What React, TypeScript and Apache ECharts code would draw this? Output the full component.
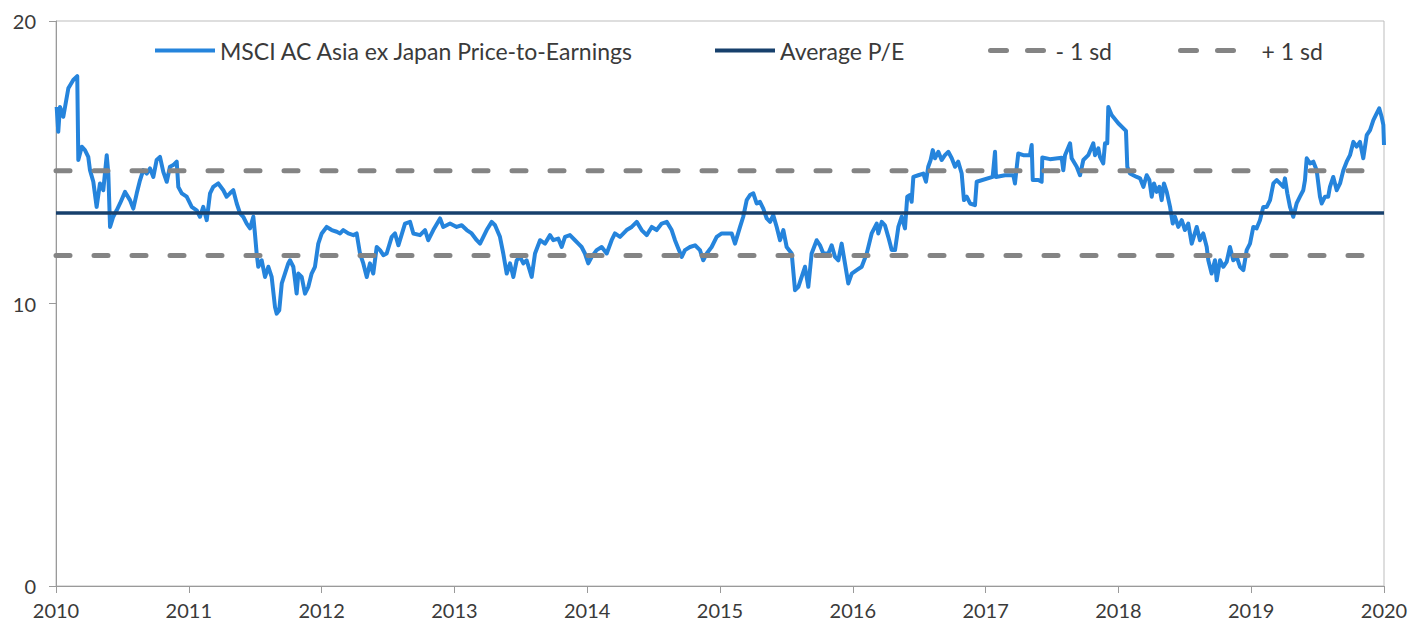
import React, { useEffect, useRef } from "react";
import * as echarts from "echarts";

// Decimal-year positions of the readings and the P/E values
const years: number[] = [
  2010.005, 2010.017, 2010.030, 2010.055, 2010.093, 2010.130, 2010.160, 2010.168, 2010.194, 2010.218,
  2010.243, 2010.256, 2010.281, 2010.306, 2010.331, 2010.356, 2010.382, 2010.394, 2010.407, 2010.431,
  2010.457, 2010.482, 2010.520, 2010.557, 2010.582, 2010.608, 2010.633, 2010.657, 2010.683, 2010.708,
  2010.733, 2010.758, 2010.783, 2010.808, 2010.834, 2010.858, 2010.883, 2010.909, 2010.921, 2010.947,
  2010.984, 2011.022, 2011.059, 2011.084, 2011.109, 2011.135, 2011.160, 2011.184, 2011.222, 2011.260,
  2011.285, 2011.310, 2011.335, 2011.361, 2011.386, 2011.410, 2011.436, 2011.461, 2011.486, 2011.498,
  2011.511, 2011.523, 2011.549, 2011.574, 2011.599, 2011.624, 2011.649, 2011.662, 2011.681, 2011.700,
  2011.724, 2011.749, 2011.762, 2011.787, 2011.800, 2011.812, 2011.825, 2011.850, 2011.875, 2011.900,
  2011.925, 2011.950, 2011.975, 2012.001, 2012.038, 2012.076, 2012.114, 2012.139, 2012.163, 2012.201,
  2012.239, 2012.264, 2012.289, 2012.314, 2012.340, 2012.364, 2012.389, 2012.415, 2012.440, 2012.465,
  2012.490, 2012.528, 2012.553, 2012.578, 2012.628, 2012.666, 2012.691, 2012.741, 2012.779, 2012.803,
  2012.841, 2012.892, 2012.916, 2012.967, 2013.017, 2013.055, 2013.093, 2013.130, 2013.168, 2013.193,
  2013.243, 2013.281, 2013.306, 2013.343, 2013.368, 2013.394, 2013.419, 2013.444, 2013.469, 2013.494,
  2013.519, 2013.544, 2013.582, 2013.607, 2013.645, 2013.682, 2013.720, 2013.745, 2013.782, 2013.808,
  2013.833, 2013.870, 2013.908, 2013.933, 2013.958, 2013.983, 2014.008, 2014.034, 2014.071, 2014.109,
  2014.147, 2014.184, 2014.209, 2014.247, 2014.297, 2014.335, 2014.373, 2014.410, 2014.448, 2014.486,
  2014.523, 2014.561, 2014.599, 2014.636, 2014.661, 2014.686, 2014.712, 2014.736, 2014.774, 2014.812,
  2014.849, 2014.874, 2014.900, 2014.937, 2014.975, 2015.013, 2015.050, 2015.088, 2015.113, 2015.151,
  2015.175, 2015.201, 2015.226, 2015.251, 2015.276, 2015.301, 2015.326, 2015.352, 2015.377, 2015.401,
  2015.427, 2015.452, 2015.477, 2015.502, 2015.540, 2015.565, 2015.590, 2015.615, 2015.640, 2015.665,
  2015.690, 2015.728, 2015.753, 2015.778, 2015.816, 2015.841, 2015.866, 2015.891, 2015.916, 2015.941,
  2015.966, 2015.992, 2016.029, 2016.067, 2016.105, 2016.142, 2016.180, 2016.192, 2016.218, 2016.242,
  2016.267, 2016.293, 2016.318, 2016.343, 2016.368, 2016.393, 2016.410, 2016.431, 2016.443, 2016.456,
  2016.493, 2016.531, 2016.551, 2016.568, 2016.586, 2016.602, 2016.619, 2016.644, 2016.669, 2016.694,
  2016.719, 2016.745, 2016.770, 2016.794, 2016.820, 2016.837, 2016.858, 2016.883, 2016.920, 2016.933,
  2017.053, 2017.071, 2017.078, 2017.146, 2017.209, 2017.221, 2017.246, 2017.284, 2017.334, 2017.347,
  2017.355, 2017.397, 2017.422, 2017.427, 2017.485, 2017.573, 2017.585, 2017.598, 2017.636, 2017.648,
  2017.686, 2017.711, 2017.736, 2017.773, 2017.811, 2017.824, 2017.849, 2017.861, 2017.886, 2017.899,
  2017.916, 2017.924, 2017.949, 2017.999, 2018.057, 2018.067, 2018.087, 2018.112, 2018.138, 2018.163,
  2018.188, 2018.213, 2018.233, 2018.251, 2018.268, 2018.288, 2018.308, 2018.326, 2018.343, 2018.364,
  2018.389, 2018.409, 2018.426, 2018.451, 2018.477, 2018.501, 2018.526, 2018.552, 2018.590, 2018.614,
  2018.639, 2018.665, 2018.677, 2018.702, 2018.727, 2018.740, 2018.765, 2018.790, 2018.815, 2018.840,
  2018.865, 2018.891, 2018.916, 2018.941, 2018.966, 2018.991, 2019.016, 2019.041, 2019.066, 2019.091,
  2019.117, 2019.142, 2019.167, 2019.192, 2019.217, 2019.242, 2019.254, 2019.272, 2019.292, 2019.317,
  2019.342, 2019.367, 2019.392, 2019.405, 2019.418, 2019.443, 2019.468, 2019.493, 2019.518, 2019.531,
  2019.556, 2019.580, 2019.593, 2019.618, 2019.644, 2019.669, 2019.694, 2019.719, 2019.744, 2019.769,
  2019.794, 2019.819, 2019.844, 2019.870, 2019.895, 2019.920, 2019.945, 2019.964, 2019.982, 2019.995,
  2020.0,
];

const pe: number[] = [
  16.96, 16.08, 16.96, 16.61, 17.62, 17.91, 18.05, 15.08, 15.55, 15.43,
  15.19, 14.72, 14.31, 13.42, 14.25, 14.01, 15.25, 14.60, 12.71, 13.07,
  13.30, 13.54, 13.95, 13.66, 13.36, 13.90, 14.37, 14.72, 14.60, 14.78,
  14.48, 15.08, 15.19, 14.66, 14.31, 14.84, 14.90, 15.02, 14.13, 13.90,
  13.78, 13.42, 13.30, 13.07, 13.42, 12.95, 13.90, 14.13, 14.25, 14.01,
  13.78, 13.90, 14.01, 13.54, 13.19, 13.07, 12.83, 12.66, 13.07, 12.48,
  11.77, 11.30, 11.53, 10.94, 11.30, 10.94, 9.88, 9.64, 9.76, 10.71,
  11.06, 11.42, 11.53, 11.30, 10.82, 10.35, 11.06, 10.94, 10.35, 10.59,
  11.06, 11.30, 12.12, 12.48, 12.71, 12.60, 12.54, 12.48, 12.60, 12.48,
  12.42, 12.48, 11.77, 11.42, 10.94, 11.42, 11.06, 12.00, 11.89, 11.71,
  11.77, 12.36, 12.48, 12.06, 12.83, 12.89, 12.48, 12.42, 12.60, 12.24,
  12.60, 13.01, 12.71, 12.83, 12.71, 12.77, 12.60, 12.48, 12.24, 12.12,
  12.60, 12.89, 12.77, 12.36, 11.77, 11.06, 11.42, 10.94, 11.53, 11.65,
  11.42, 11.53, 10.94, 11.77, 12.24, 12.12, 12.42, 12.24, 12.30, 12.00,
  12.36, 12.42, 12.24, 12.12, 12.00, 11.77, 11.42, 11.65, 11.89, 12.00,
  11.77, 12.24, 12.48, 12.36, 12.60, 12.71, 12.89, 12.60, 12.42, 12.71,
  12.60, 12.83, 12.89, 12.60, 12.24, 11.95, 11.65, 11.89, 12.00, 12.06,
  11.89, 11.53, 11.77, 12.00, 12.36, 12.48, 12.48, 12.48, 12.12, 12.71,
  13.07, 13.66, 13.84, 13.90, 13.54, 13.60, 13.36, 13.01, 12.89, 13.13,
  12.71, 12.24, 12.60, 12.00, 11.77, 10.47, 10.59, 10.94, 11.30, 10.59,
  11.77, 12.24, 12.06, 11.77, 11.77, 12.06, 11.65, 11.53, 12.12, 11.42,
  10.71, 11.06, 11.18, 11.30, 11.77, 12.48, 12.83, 12.48, 12.89, 12.77,
  12.36, 11.89, 11.89, 12.71, 13.07, 12.66, 13.78, 13.84, 13.60, 14.48,
  14.54, 14.60, 14.31, 14.84, 15.08, 15.43, 15.14, 15.37, 15.08, 15.25,
  15.37, 15.14, 14.84, 15.02, 14.60, 13.66, 13.78, 13.54, 13.48, 14.31,
  14.48, 15.37, 14.48, 14.54, 14.54, 14.25, 15.31, 15.25, 15.25, 15.61,
  14.37, 14.37, 14.31, 15.17, 15.11, 15.16, 14.72, 15.25, 15.67, 15.14,
  14.84, 14.54, 15.08, 15.25, 15.67, 15.25, 15.49, 15.19, 14.96, 15.67,
  15.67, 16.96, 16.67, 16.38, 16.11, 14.84, 14.60, 14.54, 14.48, 14.43,
  14.13, 14.54, 14.37, 13.78, 14.25, 13.95, 14.13, 13.66, 14.25, 13.95,
  13.42, 12.83, 13.07, 12.71, 12.95, 12.60, 12.83, 12.12, 12.71, 12.24,
  12.48, 12.00, 11.53, 11.06, 11.53, 10.82, 11.53, 11.30, 11.47, 12.00,
  11.53, 11.65, 11.30, 11.18, 11.89, 12.12, 12.71, 12.66, 12.95, 13.42,
  13.42, 13.66, 14.25, 14.37, 14.25, 14.13, 14.43, 13.90, 13.42, 13.07,
  13.54, 13.78, 14.01, 14.37, 15.14, 14.96, 15.02, 14.72, 13.78, 13.54,
  13.78, 13.78, 14.13, 14.48, 14.01, 14.25, 14.72, 15.02, 15.25, 15.72,
  15.55, 15.72, 15.14, 15.96, 16.14, 16.49, 16.73, 16.91, 16.61, 16.32,
  15.61,
];

const averagePE = 13.2;
const minusOneSd = 11.7;
const plusOneSd = 14.7;
const xRange: number[] = [2010, 2020];
const yTicks: number[] = [0, 10, 20];

const seriesNames: string[] = [
  "MSCI AC Asia ex Japan Price-to-Earnings",
  "Average P/E",
  "- 1 sd",
  "+ 1 sd",
];

const FONT = "Lato";
const TEXT = "#3a3a3a";
const AXIS = "#9a9a9a";
const BLUE = "#2584dc";
const NAVY = "#17406c";
const GREY = "#848484";

export default function App() {
  const ref = useRef<HTMLDivElement>(null);

  useEffect(() => {
    if (!ref.current) return;
    const chart = echarts.init(ref.current, null, { renderer: "svg" });

    const flat = (v: number) => xRange.map((x) => [x, v]);
    const textStyle = { fontFamily: FONT, fontSize: 23, color: TEXT };
    const legendBase = {
      top: 39,
      itemWidth: 60,
      itemHeight: 14,
      padding: 0,
      itemGap: 0,
      selectedMode: false,
      itemStyle: { opacity: 0 },
      textStyle,
    };

    chart.setOption({
      animation: false,
      grid: {
        left: 56,
        right: 27,
        top: 21,
        bottom: 38,
        show: true,
        borderColor: "#bdbdbd",
        borderWidth: 1,
      },
      legend: [
        { ...legendBase, left: 153, data: [seriesNames[0]], lineStyle: { width: 4 } },
        { ...legendBase, left: 713, data: [seriesNames[1]], lineStyle: { width: 4 } },
        { ...legendBase, left: 988, data: [seriesNames[2]], lineStyle: { width: 5, type: [16, 21], cap: "round" } },
        {
          ...legendBase,
          left: 1178,
          data: [seriesNames[3]],
          lineStyle: { width: 5, type: [16, 21], cap: "round" },
          textStyle: { ...textStyle, padding: [0, 0, 0, 16] },
        },
      ],
      xAxis: {
        type: "value",
        min: xRange[0],
        max: xRange[1],
        interval: 1,
        axisLine: { show: true, lineStyle: { color: AXIS, width: 1 } },
        axisTick: { show: true, length: 7, lineStyle: { color: AXIS } },
        splitLine: { show: false },
        axisLabel: {
          formatter: (v: number) => String(v),
          color: TEXT,
          fontFamily: FONT,
          fontSize: 20,
          margin: 14,
        },
      },
      yAxis: {
        type: "value",
        min: yTicks[0],
        max: yTicks[yTicks.length - 1],
        interval: yTicks[1] - yTicks[0],
        axisLine: { show: true, lineStyle: { color: AXIS, width: 1 } },
        axisTick: { show: true, length: 7, lineStyle: { color: AXIS } },
        splitLine: { show: false },
        axisLabel: {
          color: TEXT,
          fontFamily: FONT,
          fontSize: 20,
          margin: 20,
        },
      },
      series: [
        {
          name: seriesNames[0],
          type: "line",
          data: years.map((y, i) => [y, pe[i]]),
          showSymbol: false,
          symbol: "none",
          lineStyle: { color: BLUE, width: 4, join: "round" },
          itemStyle: { color: BLUE },
        },
        {
          name: seriesNames[1],
          type: "line",
          data: flat(averagePE),
          showSymbol: false,
          symbol: "none",
          lineStyle: { color: NAVY, width: 3.5 },
          itemStyle: { color: NAVY },
        },
        {
          name: seriesNames[2],
          type: "line",
          data: flat(minusOneSd),
          showSymbol: false,
          symbol: "none",
          lineStyle: { color: GREY, width: 5, type: [14, 24], cap: "round" },
          itemStyle: { color: GREY },
        },
        {
          name: seriesNames[3],
          type: "line",
          data: flat(plusOneSd),
          showSymbol: false,
          symbol: "none",
          lineStyle: { color: GREY, width: 5, type: [14, 24], cap: "round" },
          itemStyle: { color: GREY },
        },
      ],
    });

    return () => chart.dispose();
  }, []);

  return (
    <div
      ref={ref}
      style={{ position: "fixed", left: 0, top: 0, width: 1411, height: 624, background: "#fff" }}
    />
  );
}
